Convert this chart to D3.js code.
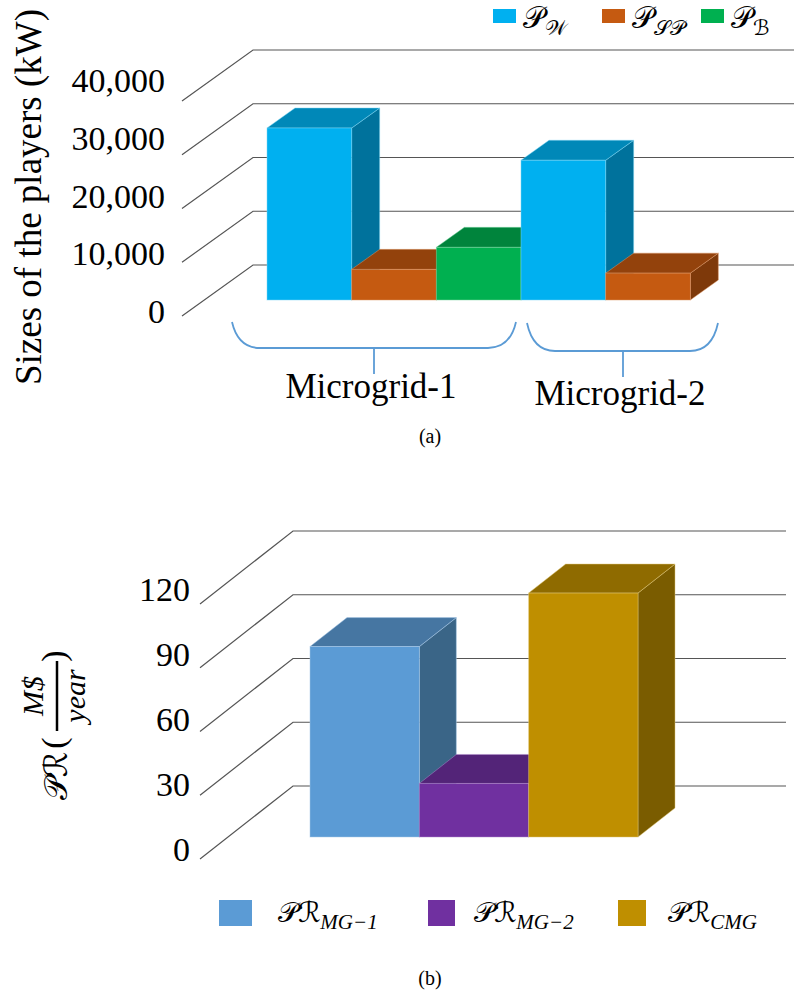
<!DOCTYPE html>
<html>
<head>
<meta charset="utf-8">
<script src="https://cdn.jsdelivr.net/npm/d3@7"></script>
<style>
  body { margin: 0; background: #fff; }
  svg { display: block; }
</style>
</head>
<body>
<div id="chart"></div>
<script>
// ---- data ----
const groups = ["Microgrid-1", "Microgrid-2"];
const playerKeys = ["W", "SP", "B"];
const playerSub = ["𝒲", "𝒮𝒫", "ℬ"];
const sizeW = [32000, 26000];
const sizeSP = [5700, 5000];
const sizeB = [9800, null];
const sizeTicks = [0, 10000, 20000, 30000, 40000];

const profitKeys = ["MG-1", "MG-2", "CMG"];
const profitSub = ["MG−1", "MG−2", "CMG"];
const profitValues = [89.6, 25.2, 114.8];
const profitTicks = [0, 30, 60, 90, 120];

// ---- styles ----
const playerColors = {
  W:  { front: "#00B0F0", top: "#0088B8", side: "#00729C", edge: "#7fd6f5" },
  SP: { front: "#C55A11", top: "#93420C", side: "#7E390A", edge: "#e09a6a" },
  B:  { front: "#00B050", top: "#00843C", side: "#007434", edge: "#7fd6a5" }
};
const profitColors = {
  "MG-1": { front: "#5B9BD5", top: "#4676A2", side: "#3A6587", edge: "#a6c8e8" },
  "MG-2": { front: "#7030A0", top: "#532478", side: "#4A2069", edge: "#b08ccc" },
  "CMG":  { front: "#BF8F00", top: "#8F6B00", side: "#7A5C00", edge: "#e0c777" }
};
const serif = "Liberation Serif, Times New Roman, serif";
const mathFont = "DejaVu Sans, DejaVu Serif, serif";
const gridColor = "#555";

const width = 794, height = 996;

const svg = d3.select("#chart").append("svg")
  .attr("width", width)
  .attr("height", height)
  .attr("viewBox", [0, 0, width, height]);

function label(g, size, italic) {
  return g.append("text")
    .attr("font-family", serif)
    .attr("font-size", size)
    .attr("font-style", italic ? "italic" : "normal");
}

function drawBar(g, x0, x1, yTop, yBot, dx, dy, c) {
  g.append("polygon")
    .attr("points", [[x1, yTop], [x1 + dx, yTop + dy], [x1 + dx, yBot + dy], [x1, yBot]].join(" "))
    .attr("fill", c.side).attr("stroke", c.edge).attr("stroke-width", 0.8).attr("stroke-opacity", 0.6);
  g.append("polygon")
    .attr("points", [[x0, yTop], [x0 + dx, yTop + dy], [x1 + dx, yTop + dy], [x1, yTop]].join(" "))
    .attr("fill", c.top).attr("stroke", c.edge).attr("stroke-width", 0.8).attr("stroke-opacity", 0.6);
  g.append("rect")
    .attr("x", x0).attr("y", yTop)
    .attr("width", x1 - x0).attr("height", yBot - yTop)
    .attr("fill", c.front).attr("stroke", c.edge).attr("stroke-width", 0.8).attr("stroke-opacity", 0.6);
}

// =============== (a) sizes of the players ===============
{
  const wallLeft = 253, wallRight = 794, depthX = 71, depthY = -51;
  const yBack = d3.scaleLinear().domain([0, 40000]).range([265, 50]);
  const yLabel = d3.scaleLinear().domain([0, 40000]).range([312, 81]);
  const yBar = d3.scaleLinear().domain([0, 40000]).range([300, 85]);
  const xGroup = d3.scaleBand().domain(groups).range([267, 775]);
  const xPlayer = d3.scaleBand().domain(playerKeys).range([0, xGroup.bandwidth()]);
  const barDX = 28, barDY = -20;

  const grid = svg.append("g").attr("fill", "none").attr("stroke", gridColor).attr("stroke-width", 1.2);
  grid.selectAll("path")
    .data(sizeTicks)
    .join("path")
    .attr("d", t => `M${wallLeft - depthX},${yBack(t) - depthY} L${wallLeft},${yBack(t)} L${wallRight},${yBack(t)}`);

  svg.append("g")
    .attr("font-family", serif)
    .attr("font-size", 34)
    .attr("text-anchor", "end")
    .selectAll("text")
    .data(sizeTicks)
    .join("text")
    .attr("x", 165)
    .attr("y", t => yLabel(t) + 11)
    .text(d3.format(","));

  label(svg, 37)
    .attr("transform", "translate(41,197) rotate(-90)")
    .attr("text-anchor", "middle")
    .text("Sizes of the players (kW)");

  const series = { W: sizeW, SP: sizeSP, B: sizeB };
  const bars = svg.append("g");
  groups.forEach((grp, gi) => {
    playerKeys.forEach(k => {
      const v = series[k][gi];
      if (v == null) return;
      const x0 = xGroup(grp) + xPlayer(k);
      drawBar(bars, x0, x0 + xPlayer.bandwidth(), yBar(v), yBar(0), barDX, barDY, playerColors[k]);
    });
  });

  // braces under the groups
  const braces = [
    { l: 232, r: 516, y: 348, mid: 374, top: 322, labelY: 398 },
    { l: 527, r: 718, y: 351, mid: 623, top: 323, labelY: 405 }
  ];
  const br = svg.append("g").attr("fill", "none").attr("stroke", "#5B9BD5").attr("stroke-width", 1.8);
  braces.forEach((b, i) => {
    br.append("path")
      .attr("d", `M${b.l},${b.top} Q${b.l + 6},${b.y} ${b.l + 28},${b.y} L${b.r - 28},${b.y} Q${b.r - 6},${b.y} ${b.r},${b.top}`);
    br.append("path").attr("d", `M${b.mid},${b.y} L${b.mid},${b.y + 26}`);
    label(svg, 35)
      .attr("x", b.mid - 3)
      .attr("y", b.labelY)
      .attr("text-anchor", "middle")
      .text(groups[i]);
  });

  // legend
  const legX = [493, 602, 701];
  const leg = svg.append("g");
  playerKeys.forEach((k, i) => {
    leg.append("rect")
      .attr("x", legX[i]).attr("y", 9)
      .attr("width", 23).attr("height", 14)
      .attr("fill", playerColors[k].front);
    const t = leg.append("text")
      .attr("x", legX[i] + 30).attr("y", 28)
      .attr("font-family", mathFont).attr("font-size", 30);
    t.append("tspan").text("𝒫");
    t.append("tspan").attr("dy", 7).attr("font-size", 21).text(playerSub[i]);
  });

  label(svg, 20)
    .attr("x", 430).attr("y", 443)
    .attr("text-anchor", "middle")
    .text("(a)");
}

// =============== (b) profits ===============
{
  const wallLeft = 293, wallRight = 786, depthX = 93, depthY = -73;
  const yBack = d3.scaleLinear().domain([0, 120]).range([786, 531]);
  const yLabel = d3.scaleLinear().domain([0, 120]).range([850, 590]);
  const yBar = d3.scaleLinear().domain([0, 120]).range([837, 582]);
  const xBar = d3.scaleBand().domain(profitKeys).range([310, 638]);
  const barDX = 37, barDY = -29;

  const grid = svg.append("g").attr("fill", "none").attr("stroke", gridColor).attr("stroke-width", 1.2);
  grid.selectAll("path")
    .data(profitTicks)
    .join("path")
    .attr("d", t => `M${wallLeft - depthX},${yBack(t) - depthY} L${wallLeft},${yBack(t)} L${wallRight},${yBack(t)}`);

  svg.append("g")
    .attr("font-family", serif)
    .attr("font-size", 34)
    .attr("text-anchor", "end")
    .selectAll("text")
    .data(profitTicks)
    .join("text")
    .attr("x", 190)
    .attr("y", t => yLabel(t) + 11)
    .text(d => d);

  const bars = svg.append("g");
  profitKeys.forEach((k, i) => {
    const x0 = xBar(k);
    drawBar(bars, x0, x0 + xBar.bandwidth(), yBar(profitValues[i]), yBar(0), barDX, barDY, profitColors[k]);
  });

  // y axis title: PR (M$ / year), rotated
  const yt = svg.append("g").attr("transform", "translate(57,696) rotate(-90)");
  yt.append("text").attr("x", -80).attr("y", 10).attr("text-anchor", "middle")
    .attr("font-family", mathFont).attr("font-size", 32).text("𝒫ℛ");
  label(yt, 34).attr("x", -47).attr("y", 8).attr("text-anchor", "middle").text("(");
  label(yt, 34).attr("x", 40).attr("y", 8).attr("text-anchor", "middle").text(")");
  yt.append("line").attr("x1", -35).attr("x2", 35).attr("y1", 0).attr("y2", 0)
    .attr("stroke", "#000").attr("stroke-width", 2.5);
  label(yt, 30, true).attr("x", 0).attr("y", -14).attr("text-anchor", "middle").text("M$");
  label(yt, 30, true).attr("x", 0).attr("y", 28).attr("text-anchor", "middle").text("year");

  // legend
  const legX = [219, 428, 618];
  const legW = [33, 27, 28];
  const textX = [278, 474, 668];
  const leg = svg.append("g");
  profitKeys.forEach((k, i) => {
    leg.append("rect")
      .attr("x", legX[i]).attr("y", 900)
      .attr("width", legW[i]).attr("height", 26)
      .attr("fill", profitColors[k].front);
    const t = leg.append("text")
      .attr("x", textX[i]).attr("y", 922)
      .attr("font-family", mathFont).attr("font-size", 28);
    t.append("tspan").text("𝒫ℛ");
    t.append("tspan").attr("dy", 7).attr("font-size", 21)
      .attr("font-family", serif).attr("font-style", "italic")
      .text(profitSub[i]);
  });

  label(svg, 20)
    .attr("x", 430).attr("y", 985)
    .attr("text-anchor", "middle")
    .text("(b)");
}
</script>
</body>
</html>
